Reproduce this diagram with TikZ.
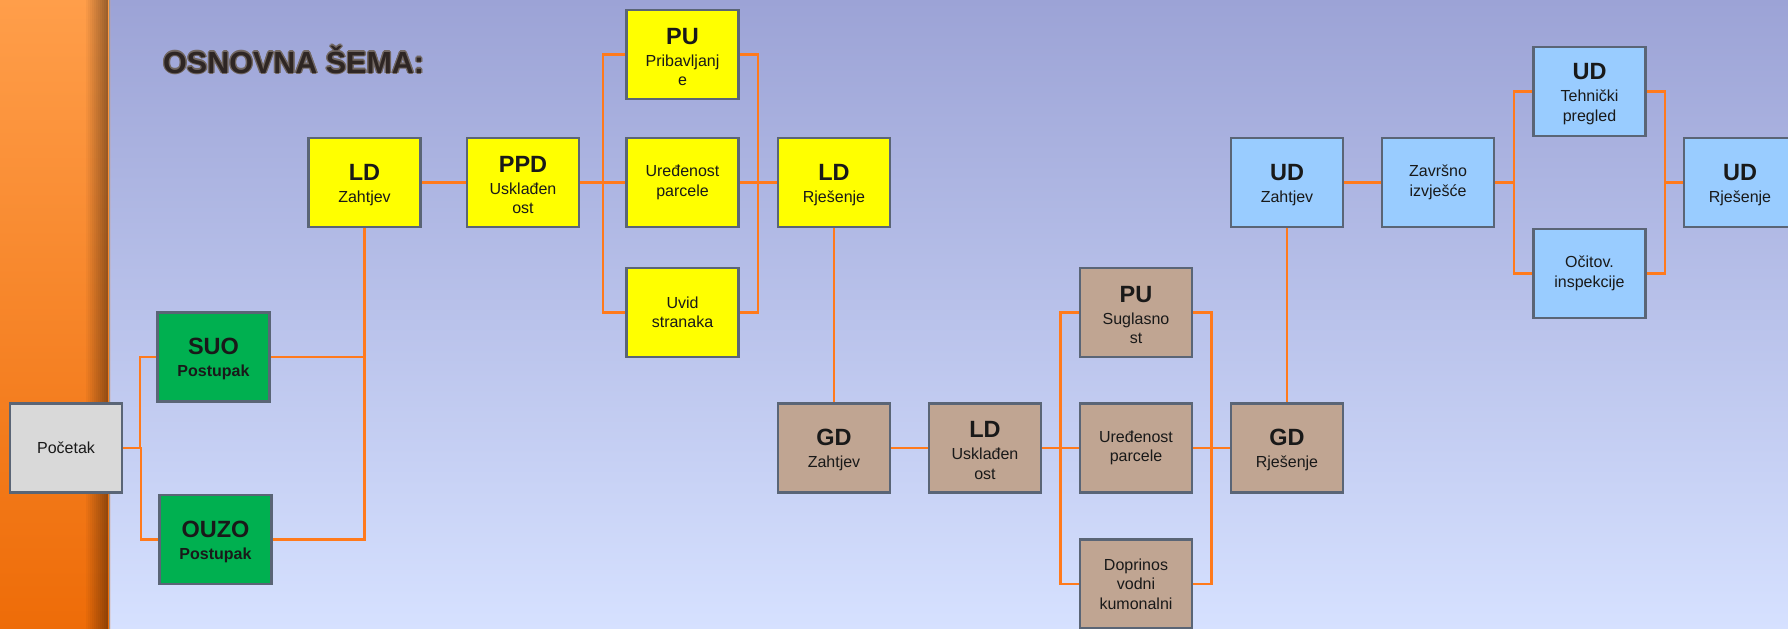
\documentclass[tikz,border=0pt]{standalone}
\usepackage{fontspec}
\setmainfont{Liberation Sans}
\usepackage{tikz}
\usetikzlibrary{calc}
\definecolor{ldyellow}{HTML}{FFFF00}
\definecolor{suogreen}{HTML}{00B050}
\definecolor{gdtan}{HTML}{C0A592}
\definecolor{udblue}{HTML}{99CCFF}
\definecolor{startgray}{HTML}{D9D9D9}
\definecolor{boxedge}{HTML}{5A6576}
\definecolor{linkorange}{HTML}{FF7A1C}
\definecolor{bgtop}{HTML}{9CA3D6}
\definecolor{bgbottom}{HTML}{D6E1FF}
\definecolor{striptop}{HTML}{FF9E4A}
\definecolor{stripbottom}{HTML}{EE6C08}
\definecolor{ttlfill}{HTML}{2E2624}
\definecolor{ttledge}{HTML}{716762}
\newcommand{\hd}{\fontsize{23.5}{22}\selectfont\bfseries\rule{0pt}{21pt}}

\begin{document}
\begin{tikzpicture}[
  x=1pt, y=-1pt,
  font=\fontsize{16}{19.5}\selectfont,
  box/.style={rectangle, draw=boxedge, line width=2.6pt, minimum width=112pt,
    minimum height=89pt, inner sep=0pt, align=center, text=black!90},
  ttl/.style={font=\fontsize{30.5}{31}\selectfont\bfseries, anchor=base west, inner sep=0pt},
  link/.style={draw=linkorange, line width=2.4pt},
  elbow/.style={to path={-| ($(\tikztostart)!.5!(\tikztotarget)$) |- (\tikztotarget)}}
]
\useasboundingbox (0,0) rectangle (1788,629);
\shade[top color=bgtop, bottom color=bgbottom] (110,0) rectangle (1788,629);
\shade[top color=striptop, bottom color=stripbottom] (0,0) rectangle (110,629);
\foreach \i [evaluate=\i as \op using 0.035*\i] in {0,...,11}
  \fill[black, opacity=\op] (84+2*\i,0) rectangle ++(2,629);
\draw[black!40, line width=1pt] (109.5,0) -- (109.5,629);

\foreach \a in {0,45,...,315}
  \node[ttl, text=ttledge] (ttl\a) at ($(163,73)+(\a:1.4pt)$) {OSNOVNA ŠEMA:};
\node[ttl, text=ttlfill] (title) at (163,73) {OSNOVNA ŠEMA:};

\node[box, fill=startgray] (pocetak) at (66,448) {Početak};
\node[box, fill=suogreen] (suo) at (213.5,357) {{\hd SUO}\\[2.5pt]\textbf{Postupak}};
\node[box, fill=suogreen] (ouzo) at (215.5,539.5) {{\hd OUZO}\\[2.5pt]\textbf{Postupak}};
\node[box, fill=ldyellow] (ldreq) at (364.5,182.5) {{\hd LD}\\[2.5pt]Zahtjev};
\node[box, fill=ldyellow] (ppd) at (523,182.5) {{\hd PPD}\\[2.5pt]Usklađen\\ost};
\node[box, fill=ldyellow] (pu) at (682.5,54.5) {{\hd PU}\\[2.5pt]Pribavljanj\\e};
\node[box, fill=ldyellow] (parcel) at (682.5,182.5) {Uređenost\\parcele};
\node[box, fill=ldyellow] (uvid) at (682.5,312.5) {Uvid\\stranaka};
\node[box, fill=ldyellow] (ldres) at (834,182.5) {{\hd LD}\\[2.5pt]Rješenje};
\node[box, fill=gdtan] (gdreq) at (834,448) {{\hd GD}\\[2.5pt]Zahtjev};
\node[box, fill=gdtan] (ldadj) at (985,448) {{\hd LD}\\[2.5pt]Usklađen\\ost};
\node[box, fill=gdtan] (pusugl) at (1136,312.5) {{\hd PU}\\[2.5pt]Suglasno\\st};
\node[box, fill=gdtan] (parcelgd) at (1136,448) {Uređenost\\parcele};
\node[box, fill=gdtan] (doprinos) at (1136,584) {Doprinos\\vodni\\kumonalni};
\node[box, fill=gdtan] (gdres) at (1287,448) {{\hd GD}\\[2.5pt]Rješenje};
\node[box, fill=udblue] (udreq) at (1287,182.5) {{\hd UD}\\[2.5pt]Zahtjev};
\node[box, fill=udblue] (report) at (1438,182.5) {Završno\\izvješće};
\node[box, fill=udblue] (tehn) at (1589.5,91.5) {{\hd UD}\\[2.5pt]Tehnički\\pregled};
\node[box, fill=udblue] (insp) at (1589.5,273.5) {Očitov.\\inspekcije};
\node[box, fill=udblue] (udres) at (1740,182.5) {{\hd UD}\\[2.5pt]Rješenje};

\draw[link] (ldreq.east) -- (ppd.west);
\draw[link] (gdreq.east) -- (ldadj.west);
\draw[link] (udreq.east) -- (report.west);
\draw[link] (ldres.south) -- (gdreq.north);
\draw[link] (gdres.north) -- (udreq.south);
\draw[link] (suo.east) -| (ldreq.south);
\draw[link] (ouzo.east) -| (ldreq.south);
\foreach \n in {suo,ouzo}
  \draw[link] (pocetak.east) to[elbow] (\n.west);
\foreach \n in {pu,parcel,uvid} {
  \draw[link] (ppd.east) to[elbow] (\n.west);
  \draw[link] (\n.east) to[elbow] (ldres.west);
}
\foreach \n in {pusugl,parcelgd,doprinos} {
  \draw[link] (ldadj.east) to[elbow] (\n.west);
  \draw[link] (\n.east) to[elbow] (gdres.west);
}
\foreach \n in {tehn,insp} {
  \draw[link] (report.east) to[elbow] (\n.west);
  \draw[link] (\n.east) to[elbow] (udres.west);
}
\end{tikzpicture}
\end{document}
